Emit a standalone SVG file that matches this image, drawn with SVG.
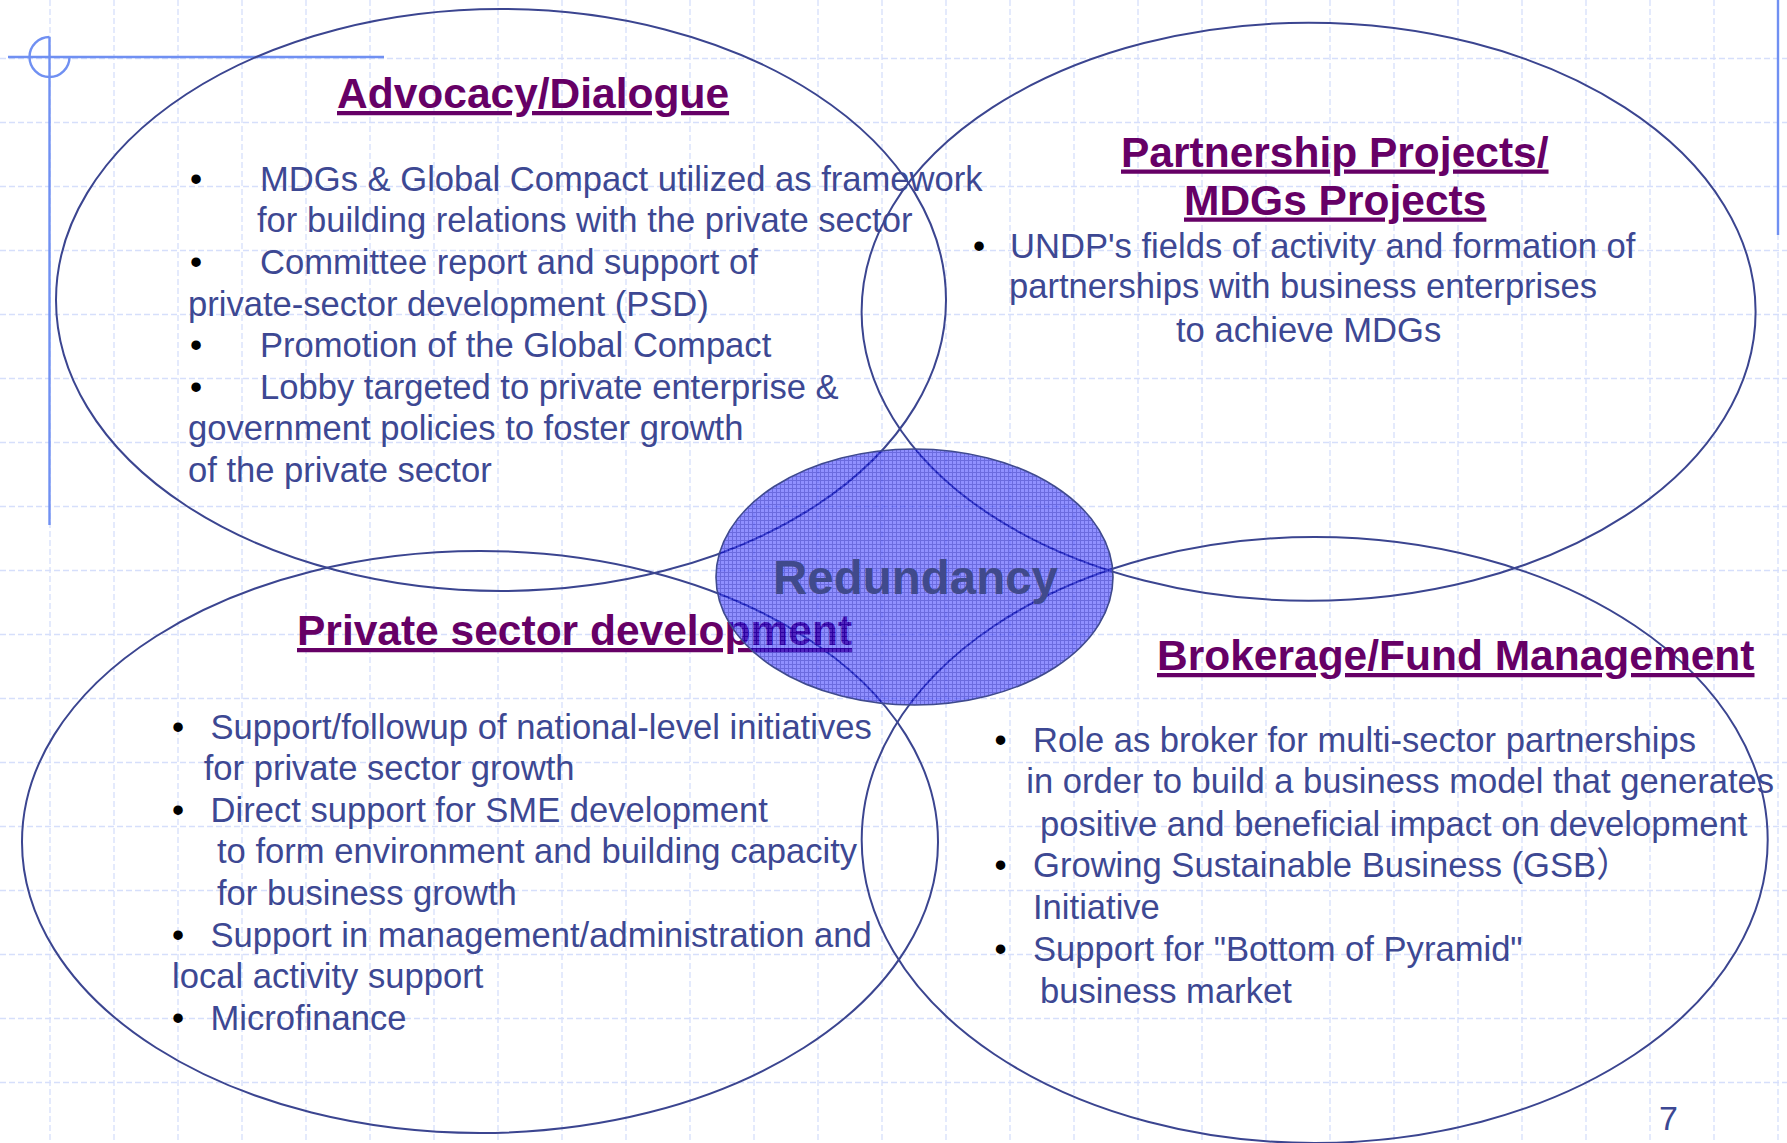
<svg xmlns="http://www.w3.org/2000/svg" width="1787" height="1143" viewBox="0 0 1787 1143">
<style>
.grid line{stroke:#d6dffb;stroke-width:1.3;stroke-dasharray:6 3}
.deco{stroke:#7090f2;stroke-width:2.4;fill:none}
.ell{fill:none;stroke:#3b4590;stroke-width:2}
.body{font-family:"Liberation Sans",Arial,"Noto Sans CJK JP",sans-serif;font-size:34.6px;fill:#3d4893}
.bul{font-family:"Liberation Sans",Arial,sans-serif;font-size:34.6px;fill:#000}
.title{font-family:"Liberation Sans",Arial,sans-serif;font-size:42.5px;font-weight:bold;fill:#660066;text-decoration:underline}
.red{font-family:"Liberation Sans",Arial,sans-serif;font-size:47.5px;font-weight:bold;fill:#404a8c;text-anchor:middle}
</style>
<defs>
<pattern id="hatch" width="4" height="4" patternUnits="userSpaceOnUse">
<rect width="4" height="4" fill="#4040ff"/>
<path d="M0 0.5H4M0.5 0V4" stroke="#0000c8" stroke-width="1"/>
</pattern>
</defs>
<rect width="1787" height="1143" fill="#ffffff"/>
<g class="grid" id="grid">
<line x1="50" y1="0" x2="50" y2="1143"/><line x1="114" y1="0" x2="114" y2="1143"/><line x1="178" y1="0" x2="178" y2="1143"/><line x1="242" y1="0" x2="242" y2="1143"/><line x1="306" y1="0" x2="306" y2="1143"/><line x1="370" y1="0" x2="370" y2="1143"/><line x1="434" y1="0" x2="434" y2="1143"/><line x1="498" y1="0" x2="498" y2="1143"/><line x1="562" y1="0" x2="562" y2="1143"/><line x1="626" y1="0" x2="626" y2="1143"/><line x1="690" y1="0" x2="690" y2="1143"/><line x1="754" y1="0" x2="754" y2="1143"/><line x1="818" y1="0" x2="818" y2="1143"/><line x1="882" y1="0" x2="882" y2="1143"/><line x1="946" y1="0" x2="946" y2="1143"/><line x1="1010" y1="0" x2="1010" y2="1143"/><line x1="1074" y1="0" x2="1074" y2="1143"/><line x1="1138" y1="0" x2="1138" y2="1143"/><line x1="1202" y1="0" x2="1202" y2="1143"/><line x1="1266" y1="0" x2="1266" y2="1143"/><line x1="1330" y1="0" x2="1330" y2="1143"/><line x1="1394" y1="0" x2="1394" y2="1143"/><line x1="1458" y1="0" x2="1458" y2="1143"/><line x1="1522" y1="0" x2="1522" y2="1143"/><line x1="1586" y1="0" x2="1586" y2="1143"/><line x1="1650" y1="0" x2="1650" y2="1143"/><line x1="1714" y1="0" x2="1714" y2="1143"/><line x1="1778" y1="0" x2="1778" y2="1143"/>
<line x1="0" y1="58.5" x2="1787" y2="58.5"/><line x1="0" y1="122.5" x2="1787" y2="122.5"/><line x1="0" y1="186.5" x2="1787" y2="186.5"/><line x1="0" y1="250.5" x2="1787" y2="250.5"/><line x1="0" y1="314.5" x2="1787" y2="314.5"/><line x1="0" y1="378.5" x2="1787" y2="378.5"/><line x1="0" y1="442.5" x2="1787" y2="442.5"/><line x1="0" y1="506.5" x2="1787" y2="506.5"/><line x1="0" y1="570.5" x2="1787" y2="570.5"/><line x1="0" y1="634.5" x2="1787" y2="634.5"/><line x1="0" y1="698.5" x2="1787" y2="698.5"/><line x1="0" y1="762.5" x2="1787" y2="762.5"/><line x1="0" y1="826.5" x2="1787" y2="826.5"/><line x1="0" y1="890.5" x2="1787" y2="890.5"/><line x1="0" y1="954.5" x2="1787" y2="954.5"/><line x1="0" y1="1018.5" x2="1787" y2="1018.5"/><line x1="0" y1="1082.5" x2="1787" y2="1082.5"/>
</g>
<g id="decoration" class="deco">
<line x1="8" y1="57" x2="384" y2="57"/>
<line x1="49.5" y1="37" x2="49.5" y2="525"/>
<path d="M69.5 57A20 20 0 1 1 49.5 37"/>
<line x1="1778" y1="0" x2="1778" y2="235"/>
</g>
<g id="advocacy">
<ellipse class="ell" cx="501" cy="300" rx="445" ry="291"/>
<text class="title" x="337" y="108">Advocacy/Dialogue</text>
<text class="bul" x="190" y="191">•</text>
<text class="body" x="260" y="191">MDGs &amp; Global Compact utilized as framework</text>
<text class="body" x="257" y="232">for building relations with the private sector</text>
<text class="bul" x="190" y="274">•</text>
<text class="body" x="260" y="274">Committee report and support of</text>
<text class="body" x="188" y="315.5">private-sector development (PSD)</text>
<text class="bul" x="190" y="357">•</text>
<text class="body" x="260" y="357">Promotion of the Global Compact</text>
<text class="bul" x="190" y="398.5">•</text>
<text class="body" x="260" y="398.5">Lobby targeted to private enterprise &amp;</text>
<text class="body" x="188" y="440">government policies to foster growth</text>
<text class="body" x="188" y="481.5">of the private sector</text>
</g>
<g id="partnership">
<ellipse class="ell" cx="1308.6" cy="311.8" rx="447" ry="289"/>
<text class="title" x="1121" y="166.5">Partnership Projects/</text>
<text class="title" x="1184" y="214.5">MDGs Projects</text>
<text class="bul" x="973" y="258.3">•</text>
<text class="body" x="1010" y="258.3">UNDP's fields of activity and formation of</text>
<text class="body" x="1009" y="298.3">partnerships with business enterprises</text>
<text class="body" x="1176" y="341.7">to achieve MDGs</text>
</g>
<g id="private-sector">
<ellipse class="ell" cx="480" cy="842" rx="458" ry="291"/>
<text class="title" x="297" y="645">Private sector development</text>
<text class="bul" x="172" y="739.3">•</text>
<text class="body" x="210.5" y="739.3">Support/followup of national-level initiatives</text>
<text class="body" x="203.7" y="780">for private sector growth</text>
<text class="bul" x="172" y="821.7">•</text>
<text class="body" x="210.5" y="821.7">Direct support for SME development</text>
<text class="body" x="217" y="863.3">to form environment and building capacity</text>
<text class="body" x="217" y="905">for business growth</text>
<text class="bul" x="172" y="946.7">•</text>
<text class="body" x="210.5" y="946.7">Support in management/administration and</text>
<text class="body" x="172" y="988.3">local activity support</text>
<text class="bul" x="172" y="1030">•</text>
<text class="body" x="210.5" y="1030">Microfinance</text>
</g>
<g id="brokerage">
<ellipse class="ell" cx="1314.7" cy="840" rx="453" ry="303"/>
<text class="title" x="1157" y="670">Brokerage/Fund Management</text>
<text class="bul" x="994.5" y="751.7">•</text>
<text class="body" x="1033" y="751.7">Role as broker for multi-sector partnerships</text>
<text class="body" x="1026.3" y="793.3">in order to build a business model that generates</text>
<text class="body" x="1040" y="835.7">positive and beneficial impact on development</text>
<text class="bul" x="994.5" y="877.3">•</text>
<text class="body" x="1033" y="877.3">Growing Sustainable Business (GSB）</text>
<text class="body" x="1033" y="919.3">Initiative</text>
<text class="bul" x="994.5" y="960.7">•</text>
<text class="body" x="1033" y="960.7">Support for "Bottom of Pyramid"</text>
<text class="body" x="1040" y="1002.7">business market</text>
</g>
<g id="redundancy">
<ellipse cx="914.5" cy="577" rx="198.5" ry="128" fill="url(#hatch)" fill-opacity="0.58" stroke="#3f4a8e" stroke-width="1.6"/>
<text class="red" x="915.5" y="594">Redundancy</text>
</g>
<g id="page-number">
<text class="body" x="1659" y="1130" style="font-size:34px">7</text>
</g>
</svg>
